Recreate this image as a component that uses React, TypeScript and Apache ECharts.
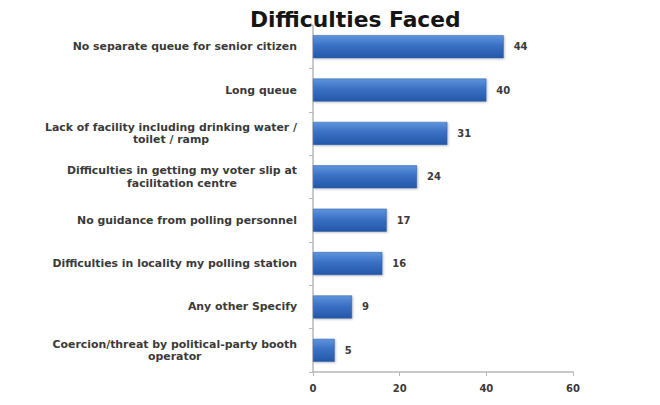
import React, { useEffect, useRef } from "react";
import * as echarts from "echarts";

// Survey responses: difficulties faced by voters (top to bottom as shown)
const categories: string[] = [
  "No separate queue for senior citizen",
  "Long queue",
  "Lack of facility including drinking water /\ntoilet / ramp",
  "Difficulties in getting my voter slip at\nfacilitation centre",
  "No guidance from polling personnel",
  "Difficulties in locality my polling station",
  "Any other Specify",
  "Coercion/threat by political-party booth\noperator",
];
const values: number[] = [44, 40, 31, 24, 17, 16, 9, 5];
const xTicks: number[] = [0, 20, 40, 60];

const TITLE = "Difficulties Faced";
const FONT = "'DejaVu Sans', 'Open Sans', sans-serif";

// Wrapped category labels: first line right-aligned at the axis, later lines centred under it
function formatCategory(name: string): string {
  const lines = name.split("\n");
  return lines
    .map((line, i) => (i === 0 ? `{a|${line}}` : `{c|${line}}`))
    .join("\n");
}

export default function App() {
  const ref = useRef<HTMLDivElement>(null);

  useEffect(() => {
    if (!ref.current) return;
    const chart = echarts.init(ref.current, undefined, { renderer: "svg" });

    // ECharts draws categories bottom-up, so feed them reversed
    const cats = [...categories].reverse();
    const vals = [...values].reverse();

    const labelStyle = {
      fontFamily: FONT,
      fontSize: 10.9,
      fontWeight: "bold",
      color: "#3a3a3a",
      lineHeight: 12.5,
    };

    chart.setOption({
      animation: false,
      backgroundColor: "#f2f2ef",
      title: {
        text: TITLE,
        left: 245,
        top: 3,
        textStyle: {
          fontFamily: FONT,
          fontSize: 21.8,
          fontWeight: "bold",
          color: "#151515",
        },
      },
      // white panel with a thin grey frame
      graphic: {
        elements: [
          {
            type: "rect",
            left: 3,
            top: 3,
            z: -10,
            shape: { width: 652, height: 397 },
            style: { fill: "#ffffff", stroke: "#a8a8a8", lineWidth: 1.5 },
            silent: true,
          },
        ],
      },
      grid: {
        left: 313,
        right: 87,
        top: 25,
        bottom: 33,
        containLabel: false,
      },
      xAxis: {
        type: "value",
        min: 0,
        max: 60,
        interval: 20,
        axisLine: { show: true, lineStyle: { color: "#b8b8b8", width: 1.5 } },
        axisTick: { show: true, length: 4, lineStyle: { color: "#b8b8b8" } },
        splitLine: { show: false },
        axisLabel: {
          margin: 11,
          fontFamily: FONT,
          fontSize: 10,
          fontWeight: "bold",
          color: "#3a3a3a",
          formatter: (v: number) => (xTicks.includes(v) ? String(v) : ""),
        },
      },
      yAxis: {
        type: "category",
        data: cats,
        axisLine: { show: true, lineStyle: { color: "#b8b8b8", width: 1.5 } },
        axisTick: { show: true, length: 4, lineStyle: { color: "#b8b8b8" } },
        axisLabel: {
          margin: 16,
          align: "right",
          formatter: formatCategory,
          rich: {
            a: { ...labelStyle, align: "right" },
            c: { ...labelStyle, align: "center" },
          },
        },
      },
      series: [
        {
          type: "bar",
          data: vals,
          barCategoryGap: "47%",
          itemStyle: {
            color: new echarts.graphic.LinearGradient(0, 0, 0, 1, [
              { offset: 0, color: "#5f95dc" },
              { offset: 0.45, color: "#3a70c4" },
              { offset: 1, color: "#2457a8" },
            ]),
            borderColor: "#2a5aa3",
            borderWidth: 0.5,
            shadowColor: "rgba(0,0,0,0.25)",
            shadowBlur: 2,
            shadowOffsetX: 1,
            shadowOffsetY: 1,
          },
          label: {
            show: true,
            position: "right",
            distance: 10,
            fontFamily: FONT,
            fontSize: 10,
            fontWeight: "bold",
            color: "#3a3a3a",
          },
        },
      ],
    });

    return () => chart.dispose();
  }, []);

  return <div ref={ref} style={{ width: 660, height: 405, margin: -8 }} />;
}
